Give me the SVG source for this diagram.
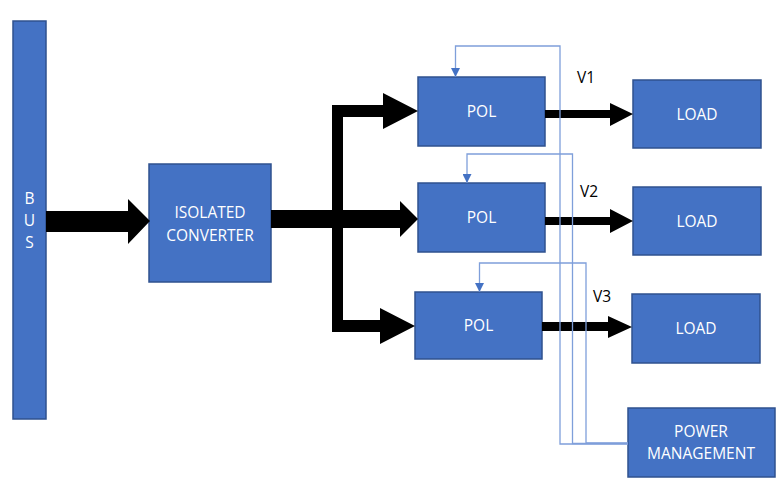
<svg xmlns="http://www.w3.org/2000/svg" width="784" height="493" viewBox="0 0 784 493">
<defs>
<style>
.box{fill:#4472C4;stroke:#2F528F;stroke-width:1.5}
.lbl{font-family:"Open Sans","Liberation Sans",Arial,sans-serif;font-size:15.5px;fill:#ffffff;text-anchor:middle}
.vlbl{font-family:"Open Sans","Liberation Sans",Arial,sans-serif;font-size:15.5px;fill:#000000}
.thick{fill:#000000}
.thin{fill:none;stroke:#7F9FDA;stroke-width:1.3}
</style>
<marker id="tri" viewBox="0 0 10 10" refX="10" refY="5" markerWidth="9" markerHeight="9" markerUnits="userSpaceOnUse" orient="auto">
<path d="M0,0 L10,5 L0,10 z" fill="#4472C4"/>
</marker>
</defs>
<rect width="784" height="493" fill="#ffffff"/>

<g id="bus">
<rect class="box" x="13" y="21" width="33" height="398"/>
<text class="lbl" x="29.5" y="204">B</text>
<text class="lbl" x="29.5" y="226">U</text>
<text class="lbl" x="29.5" y="248">S</text>
</g>

<g id="converter">
<rect class="box" x="149" y="164" width="122" height="118"/>
<text class="lbl" x="210" y="218">ISOLATED</text>
<text class="lbl" x="210" y="241">CONVERTER</text>
</g>

<g id="pol1">
<rect class="box" x="418" y="77" width="127" height="69"/>
<text class="lbl" x="481.5" y="117">POL</text>
</g>
<g id="pol2">
<rect class="box" x="418" y="183" width="127" height="69"/>
<text class="lbl" x="481.5" y="223">POL</text>
</g>
<g id="pol3">
<rect class="box" x="415" y="292" width="127" height="67"/>
<text class="lbl" x="478.5" y="331">POL</text>
</g>

<g id="load1">
<rect class="box" x="633" y="80" width="128" height="68"/>
<text class="lbl" x="697" y="119.5">LOAD</text>
</g>
<g id="load2">
<rect class="box" x="633" y="187" width="128" height="68"/>
<text class="lbl" x="697" y="226.5">LOAD</text>
</g>
<g id="load3">
<rect class="box" x="632" y="294" width="128" height="69"/>
<text class="lbl" x="696" y="334">LOAD</text>
</g>

<g id="power-management">
<rect class="box" x="628" y="408" width="147" height="69"/>
<text class="lbl" x="701" y="437">POWER</text>
<text class="lbl" x="701" y="459">MANAGEMENT</text>
</g>

<g id="connectors">
<polygon class="thick" points="46,211 128,211 128,199 150,221 128,244 128,232 46,232"/>
<polygon class="thick" points="271,210 400,210 400,201 418,219 400,237 400,228 271,228"/>
<rect class="thick" x="332" y="105" width="11" height="227"/>
<polygon class="thick" points="332,105 383,105 383,93 418,111 383,129 383,117 343,117"/>
<polygon class="thick" points="332,320 380,320 380,308 415,326 380,344 380,332 332,332"/>
<polygon class="thick" points="545,110 610,110 610,103 633,114 610,126 610,118 545,118"/>
<polygon class="thick" points="545,217 610,217 610,209 633,221 610,233 610,225 545,225"/>
<polygon class="thick" points="542,322 608,322 608,316 632,327 608,338 608,331 542,331"/>

<polyline class="thin" points="628,444 560,444 560,46 455.5,46 455.5,77" marker-end="url(#tri)"/>
<polyline class="thin" points="628,443.5 572.5,443.5 572.5,154 467,154 467,183" marker-end="url(#tri)"/>
<polyline class="thin" points="628,443 586,443 586,263 479.5,263 479.5,292" marker-end="url(#tri)"/>

<text class="vlbl" x="577" y="83">V1</text>
<text class="vlbl" x="580" y="197">V2</text>
<text class="vlbl" x="593" y="302">V3</text>
</g>
</svg>
